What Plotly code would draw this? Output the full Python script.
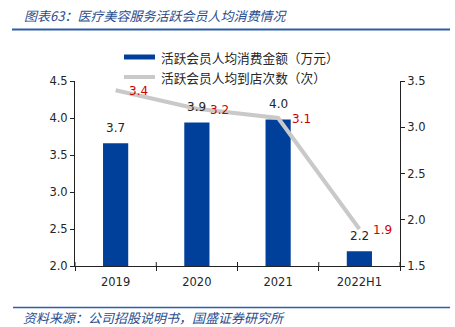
import plotly.graph_objects as go

# Data
periods = ["2019", "2020", "2021", "2022H1"]
spend_per_member = [3.66, 3.94, 3.98, 2.2]      # 万元
visits_per_member = [3.4, 3.2, 3.1, 1.9]        # 次
left_ticks = [2.0, 2.5, 3.0, 3.5, 4.0, 4.5]
right_ticks = [1.5, 2.0, 2.5, 3.0, 3.5]

title_text = "图表63：医疗美容服务活跃会员人均消费情况"
source_text = "资料来源：公司招股说明书，国盛证券研究所"
legend_names = ["活跃会员人均消费金额（万元）", "活跃会员人均到店次数（次）"]

NAVY = "#00409A"
GREY = "#C9C9C9"
RED = "#D00000"
INK = "#262626"
TITLE_BLUE = "#2A4C8E"
RULE_BLUE = "#2F5DA6"
NUM_FONT = "DejaVu Sans"
CJK_FONT = "Noto Sans CJK SC"

fig = go.Figure()
fig.add_trace(go.Bar(
    x=periods, y=spend_per_member, width=0.31,
    marker=dict(color=NAVY, line=dict(width=0)),
    name=legend_names[0], showlegend=False, yaxis="y",
))
fig.add_trace(go.Scatter(
    x=periods, y=visits_per_member, mode="lines",
    line=dict(color=GREY, width=4),
    name=legend_names[1], showlegend=False, yaxis="y2",
))

annotations = []
# value labels above bars (category position given by index)
for i, v in enumerate(spend_per_member):
    annotations.append(dict(
        x=i, y=v, xref="x", yref="y", text=f"{v:.1f}", showarrow=False,
        yanchor="middle", yshift=15, font=dict(family=NUM_FONT, size=12, color=INK),
    ))
# value labels beside the line points
for i, v in enumerate(visits_per_member):
    annotations.append(dict(
        x=i, y=v, xref="x", yref="y2", text=f"{v:.1f}", showarrow=False,
        xanchor="center", yanchor="middle", xshift=23, yshift=-1,
        font=dict(family=NUM_FONT, size=12, color=RED),
    ))

# paper-coordinate helpers (plot area spans x 75..400 px, y 81..266 px)
def px(xpix):
    return (xpix - 75) / 325.0

def py(ypix):
    return (266 - ypix) / 185.0

annotations += [
    dict(x=px(22), y=py(15), xref="paper", yref="paper", text=title_text,
         showarrow=False, xanchor="left", yanchor="middle",
         font=dict(family=CJK_FONT, size=13, color=TITLE_BLUE, style="italic")),
    dict(x=px(21), y=py(317), xref="paper", yref="paper", text=source_text,
         showarrow=False, xanchor="left", yanchor="middle",
         font=dict(family=CJK_FONT, size=13, color=TITLE_BLUE, style="italic")),
    dict(x=px(159), y=py(57), xref="paper", yref="paper", text=legend_names[0],
         showarrow=False, xanchor="left", yanchor="middle",
         font=dict(family=CJK_FONT, size=12.7, color=INK)),
    dict(x=px(159), y=py(77), xref="paper", yref="paper", text=legend_names[1],
         showarrow=False, xanchor="left", yanchor="middle",
         font=dict(family=CJK_FONT, size=12.7, color=INK)),
]

shapes = [
    # rule under the title
    dict(type="line", xref="paper", yref="paper", x0=px(12), x1=px(450),
         y0=py(29.5), y1=py(29.5), line=dict(color=RULE_BLUE, width=2)),
    # rule above the source
    dict(type="line", xref="paper", yref="paper", x0=px(13), x1=px(450),
         y0=py(307.5), y1=py(307.5), line=dict(color=RULE_BLUE, width=1.5)),
    # legend swatches
    dict(type="line", xref="paper", yref="paper", x0=px(124), x1=px(155),
         y0=py(57), y1=py(57), line=dict(color=NAVY, width=5)),
    dict(type="line", xref="paper", yref="paper", x0=px(124), x1=px(155),
         y0=py(77), y1=py(77), line=dict(color=GREY, width=4)),
]
# upper half of the cross ticks on the category axis boundaries
for k in range(len(periods) + 1):
    shapes.append(dict(type="line", xref="x", yref="paper", x0=k - 0.5, x1=k - 0.5,
                       y0=0, y1=4 / 185.0, line=dict(color="#222", width=1)))

fig.update_layout(
    width=455, height=327,
    margin=dict(l=75, r=55, t=81, b=61),
    paper_bgcolor="white", plot_bgcolor="white",
    annotations=annotations, shapes=shapes,
    xaxis=dict(
        type="category", range=[-0.5, 3.5],
        showgrid=False, showline=True, linecolor="#222", linewidth=1,
        ticks="outside", ticklen=4, tickcolor="#222", tickson="boundaries",
        tickfont=dict(family=NUM_FONT, size=11.5, color=INK), ticklabelstandoff=5,
    ),
    yaxis=dict(
        range=[2.0, 4.5], tickvals=left_ticks, ticktext=[f"{t:.1f}" for t in left_ticks],
        showgrid=False, zeroline=False, showline=True, linecolor="#222", linewidth=1,
        ticks="outside", ticklen=4, tickcolor="#222",
        tickfont=dict(family=NUM_FONT, size=11.5, color=INK),
    ),
    yaxis2=dict(
        range=[1.5, 3.5], tickvals=right_ticks, ticktext=[f"{t:.1f}" for t in right_ticks],
        overlaying="y", side="right", showgrid=False, zeroline=False,
        showline=True, linecolor="#222", linewidth=1,
        ticks="outside", ticklen=4, tickcolor="#222",
        tickfont=dict(family=NUM_FONT, size=11.5, color=INK),
    ),
)

fig.write_html("out.html")
